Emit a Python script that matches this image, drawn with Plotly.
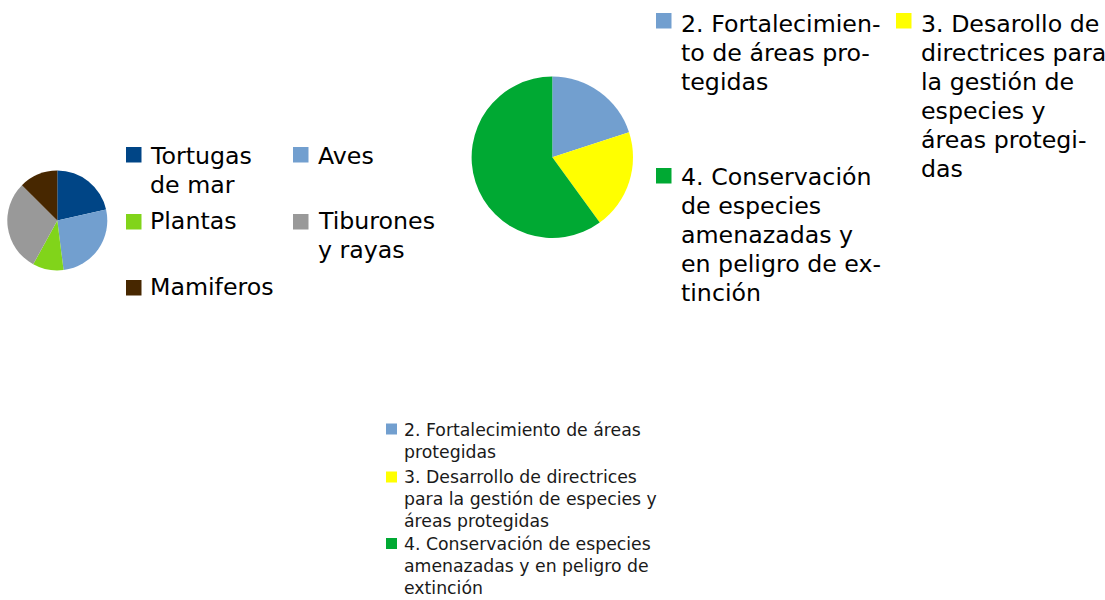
import plotly.graph_objects as go

W, H = 1105, 600

# ---- Data ----
species = ["Tortugas de mar", "Aves", "Plantas", "Tiburones y rayas", "Mamiferos"]
species_legend = ["Tortugas<br>de mar", "Aves", "Plantas", "Tiburones<br>y rayas", "Mamiferos"]
species_values = [21.5, 26.5, 10.0, 29.5, 12.5]
species_colors = ["#004586", "#729fcf", "#81d41a", "#999999", "#472700"]

actions = ["2. Fortalecimiento de áreas protegidas",
           "3. Desarrollo de directrices para la gestión de especies y áreas protegidas",
           "4. Conservación de especies amenazadas y en peligro de extinción"]
actions_legend_top = ["2. Fortalecimien-<br>to de áreas pro-<br>tegidas",
                      "3. Desarollo de<br>directrices para<br>la gestión de<br>especies y<br>áreas protegi-<br>das",
                      "4. Conservación<br>de especies<br>amenazadas y<br>en peligro de ex-<br>tinción"]
actions_legend_bottom = ["2. Fortalecimiento de áreas<br>protegidas",
                         "3. Desarrollo de directrices<br>para la gestión de especies y<br>áreas protegidas",
                         "4. Conservación de especies<br>amenazadas y en peligro de<br>extinción"]
actions_values = [20.0, 20.0, 60.0]
actions_colors = ["#729fcf", "#ffff00", "#00a933"]

FONT = "DejaVu Sans, Liberation Sans, Arial, sans-serif"


def px_x(x):
    return x / W


def px_y(y):
    return 1 - y / H


def pie_domain(cx, cy, r):
    return dict(x=[px_x(cx - r), px_x(cx + r)], y=[px_y(cy + r), px_y(cy - r)])


fig = go.Figure()
fig.add_trace(go.Pie(labels=species, values=species_values, sort=False, direction="clockwise",
                     rotation=0, marker=dict(colors=species_colors, line=dict(width=0)),
                     textinfo="none", showlegend=False, domain=pie_domain(57.3, 220.5, 50)))
fig.add_trace(go.Pie(labels=actions, values=actions_values, sort=False, direction="clockwise",
                     rotation=0, marker=dict(colors=actions_colors, line=dict(width=0)),
                     textinfo="none", showlegend=False, domain=pie_domain(552.3, 157.3, 80.7)))

shapes = []
annotations = []


def legend_item(sq_x, sq_y, sq, text_x, baseline, label, color, size, pitch, tcolor):
    shapes.append(dict(type="rect", xref="paper", yref="paper",
                       x0=px_x(sq_x), x1=px_x(sq_x + sq), y0=px_y(sq_y + sq), y1=px_y(sq_y),
                       fillcolor=color, line=dict(width=0)))
    for i, line in enumerate(label.split("<br>")):
        b = baseline + i * pitch
        cy = b - 0.34 * size
        annotations.append(dict(text=line, x=px_x(text_x - 1), y=px_y(cy), xref="paper", yref="paper",
                                xanchor="left", yanchor="middle", showarrow=False,
                                font=dict(family=FONT, size=size, color=tcolor)))


# left legend
left_pos = [(126, 147, 149, 164), (293, 147, 317, 164), (126, 214, 149, 229.5),
            (293, 214, 317, 229.5), (126, 280, 149, 295.5)]
for (sx, sy, tx, bl), lab, col in zip(left_pos, species_legend, species_colors):
    legend_item(sx, sy, 15.5, tx, bl, lab, col, 23.7, 29, "#000000")

# top right legend
top_pos = [(656, 13, 680, 31.7), (896, 13, 919.5, 31.7), (656, 168, 680, 185)]
for (sx, sy, tx, bl), lab, col in zip(top_pos, actions_legend_top, actions_colors):
    legend_item(sx, sy, 15.5, tx, bl, lab, col, 23.7, 29, "#000000")

# bottom legend
bot_pos = [(386, 423.5, 403, 435.7), (386, 471.5, 403, 483.3), (386, 538, 403, 550)]
for (sx, sy, tx, bl), lab, col in zip(bot_pos, actions_legend_bottom, actions_colors):
    legend_item(sx, sy, 11, tx, bl, lab, col, 17.3, 21.7, "#1a1a1a")

fig.update_layout(width=W, height=H, margin=dict(l=0, r=0, t=0, b=0),
                  paper_bgcolor="white", plot_bgcolor="white",
                  shapes=shapes, annotations=annotations, showlegend=False,
                  font=dict(family=FONT))

fig.write_html("out.html", config={"displayModeBar": False},
               post_script="document.body.style.margin='0px';")
